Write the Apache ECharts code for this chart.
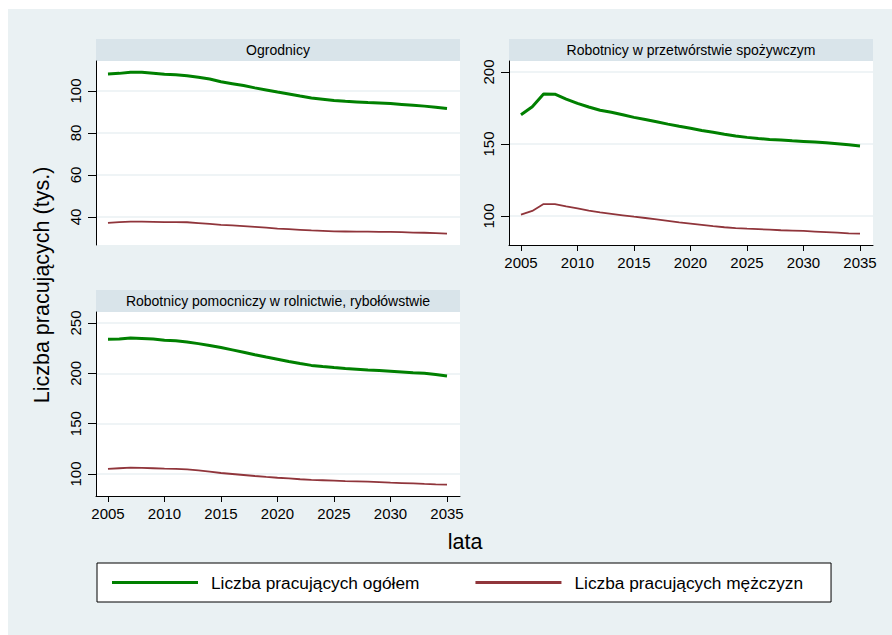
<!DOCTYPE html>
<html>
<head>
<meta charset="utf-8">
<script src="https://cdn.jsdelivr.net/npm/echarts@6/dist/echarts.min.js"></script>
<style>
  body { margin: 0; background: #fff; }
  #chart { position: absolute; left: 8px; top: 9px; width: 884px; height: 626px; }
</style>
</head>
<body>
<div id="chart"></div>
<script>
// lata
const years = [2005, 2006, 2007, 2008, 2009, 2010, 2011, 2012, 2013, 2014, 2015,
  2016, 2017, 2018, 2019, 2020, 2021, 2022, 2023, 2024, 2025,
  2026, 2027, 2028, 2029, 2030, 2031, 2032, 2033, 2034, 2035];
const xTicks = [2005, 2010, 2015, 2020, 2025, 2030, 2035];

const panelTitles = ['Ogrodnicy', 'Robotnicy w przetwórstwie spożywczym', 'Robotnicy pomocniczy w rolnictwie, rybołówstwie'];
const seriesNames = ['Liczba pracujących ogółem', 'Liczba pracujących mężczyzn'];

// Ogrodnicy
const ogrodnicyOgolem = [108.1, 108.4, 108.9, 108.9, 108.5, 108.0, 107.7, 107.3, 106.6, 105.7, 104.4,
  103.5, 102.6, 101.5, 100.5, 99.5, 98.6, 97.6, 96.7, 96.1, 95.5,
  95.1, 94.8, 94.5, 94.3, 94.0, 93.6, 93.2, 92.8, 92.3, 91.7];
const ogrodnicyMezczyzn = [37.2, 37.6, 37.8, 37.8, 37.7, 37.6, 37.6, 37.5, 37.1, 36.7, 36.3,
  36.0, 35.7, 35.3, 34.9, 34.5, 34.2, 33.9, 33.6, 33.4, 33.2,
  33.1, 33.0, 33.0, 32.9, 32.9, 32.8, 32.6, 32.5, 32.3, 32.1];
const ogrodnicyTicks = [40, 60, 80, 100];

// Robotnicy w przetwórstwie spożywczym
const przetworstwoOgolem = [170.3, 175.9, 184.7, 184.6, 181.2, 178.2, 175.7, 173.4, 172.0, 170.3, 168.5,
  167.0, 165.5, 163.8, 162.3, 160.9, 159.4, 158.1, 156.8, 155.6, 154.6,
  153.8, 153.2, 152.7, 152.2, 151.8, 151.4, 150.9, 150.2, 149.4, 148.6];
const przetworstwoMezczyzn = [100.9, 103.5, 108.3, 108.3, 106.7, 105.3, 103.7, 102.5, 101.5, 100.5, 99.5,
  98.6, 97.6, 96.6, 95.6, 94.7, 93.8, 92.9, 92.2, 91.6, 91.2,
  90.9, 90.5, 90.1, 89.9, 89.6, 89.2, 88.8, 88.4, 88.0, 87.7];
const przetworstwoTicks = [100, 150, 200];

// Robotnicy pomocniczy w rolnictwie, rybołówstwie
const rolnictwoOgolem = [233.9, 234.0, 235.2, 234.7, 234.1, 232.9, 232.3, 231.2, 229.5, 227.6, 225.6,
  223.3, 221.0, 218.5, 216.2, 214.0, 211.8, 209.7, 207.9, 206.7, 205.7,
  204.8, 204.1, 203.4, 202.8, 202.1, 201.4, 200.7, 200.1, 198.8, 197.4];
const rolnictwoMezczyzn = [105.0, 105.7, 106.3, 106.0, 105.7, 105.3, 105.1, 104.6, 103.6, 102.3, 101.0,
  100.0, 99.0, 98.0, 97.1, 96.3, 95.6, 94.8, 94.2, 93.8, 93.4,
  93.0, 92.7, 92.4, 91.9, 91.4, 91.0, 90.6, 90.1, 89.7, 89.4];
const rolnictwoTicks = [100, 150, 200, 250];

const FONT = "'Liberation Sans', Arial, sans-serif";
const GREEN = '#008000';
const RED = '#90353b';

const pairs = (vals) => years.map((y, i) => [y, vals[i]]);

function xAx(gridIndex, show) {
  return {
    type: 'value', gridIndex: gridIndex, min: 2003.94, max: 2036.15,
    axisLine: { show: show, onZero: false, lineStyle: { color: '#000', width: 1 } },
    axisTick: { show: show, length: 6, customValues: xTicks, lineStyle: { color: '#000' } },
    axisLabel: { show: show, customValues: xTicks, margin: 10, fontSize: 15, color: '#000', fontFamily: FONT,
      formatter: (v) => String(v) },
    splitLine: { show: false }
  };
}

function yAx(gridIndex, min, max, ticks) {
  return {
    type: 'value', gridIndex: gridIndex, min: min, max: max,
    axisLine: { show: true, lineStyle: { color: '#000', width: 1 } },
    axisTick: { show: true, length: 8, customValues: ticks, lineStyle: { color: '#000' } },
    axisLabel: { customValues: ticks, rotate: 90, margin: 13, fontSize: 15, color: '#000', fontFamily: FONT,
      formatter: (v) => String(v) },
    splitLine: { show: true, lineStyle: { color: '#eaf1f3', width: 1.5 } }
  };
}

function line(name, xi, vals, color, width) {
  return {
    name: name, type: 'line', xAxisIndex: xi, yAxisIndex: xi,
    data: pairs(vals), symbol: 'none', showSymbol: false,
    lineStyle: { color: color, width: width }, itemStyle: { color: color },
    emphasis: { disabled: true }
  };
}

function strip(x, y, title) {
  return [
    { type: 'rect', shape: { x: x, y: y, width: 364, height: 22 }, style: { fill: '#d9e4ea' } },
    { type: 'text', x: x + 182, y: y + 11,
      style: { text: title, fontSize: 14, fontFamily: FONT, fill: '#000', align: 'center', verticalAlign: 'middle' } }
  ];
}

let myChart = echarts.init(document.getElementById('chart'), null, { renderer: 'svg' });
myChart.setOption({
  backgroundColor: '#eaf1f3',
  animation: false,
  grid: [
    { left: 88, top: 52, width: 364, height: 184, show: true, backgroundColor: '#fff', borderWidth: 0 },
    { left: 501, top: 52, width: 364, height: 184, show: true, backgroundColor: '#fff', borderWidth: 0 },
    { left: 88, top: 303, width: 364, height: 184, show: true, backgroundColor: '#fff', borderWidth: 0 }
  ],
  xAxis: [xAx(0, false), xAx(1, true), xAx(2, true)],
  yAxis: [
    yAx(0, 26.67, 114.29, ogrodnicyTicks),
    yAx(1, 79.86, 207.64, przetworstwoTicks),
    yAx(2, 78.15, 260.93, rolnictwoTicks)
  ],
  legend: {
    left: 89, top: 554, padding: [11, 28, 11, 15],
    itemWidth: 86, itemHeight: 3, itemGap: 56, icon: 'rect',
    backgroundColor: '#fff', borderColor: '#000', borderWidth: 1,
    textStyle: { fontSize: 17.3, color: '#000', fontFamily: FONT, padding: [0, 0, 0, 8] },
    data: seriesNames
  },
  graphic: [].concat(
    strip(88, 30, panelTitles[0]),
    strip(501, 30, panelTitles[1]),
    strip(88, 281, panelTitles[2]),
    [
      { type: 'text', x: 34, y: 276, rotation: Math.PI / 2,
        style: { text: 'Liczba pracujących (tys.)', fontSize: 21.5, fontFamily: FONT, fill: '#000', align: 'center', verticalAlign: 'middle' } },
      { type: 'text', x: 457, y: 533,
        style: { text: 'lata', fontSize: 21.5, fontFamily: FONT, fill: '#000', align: 'center', verticalAlign: 'middle' } }
    ]
  ),
  series: [
    line(seriesNames[0], 0, ogrodnicyOgolem, GREEN, 3),
    line(seriesNames[1], 0, ogrodnicyMezczyzn, RED, 1.8),
    line(seriesNames[0], 1, przetworstwoOgolem, GREEN, 3),
    line(seriesNames[1], 1, przetworstwoMezczyzn, RED, 1.8),
    line(seriesNames[0], 2, rolnictwoOgolem, GREEN, 3),
    line(seriesNames[1], 2, rolnictwoMezczyzn, RED, 1.8)
  ]
});
</script>
</body>
</html>
